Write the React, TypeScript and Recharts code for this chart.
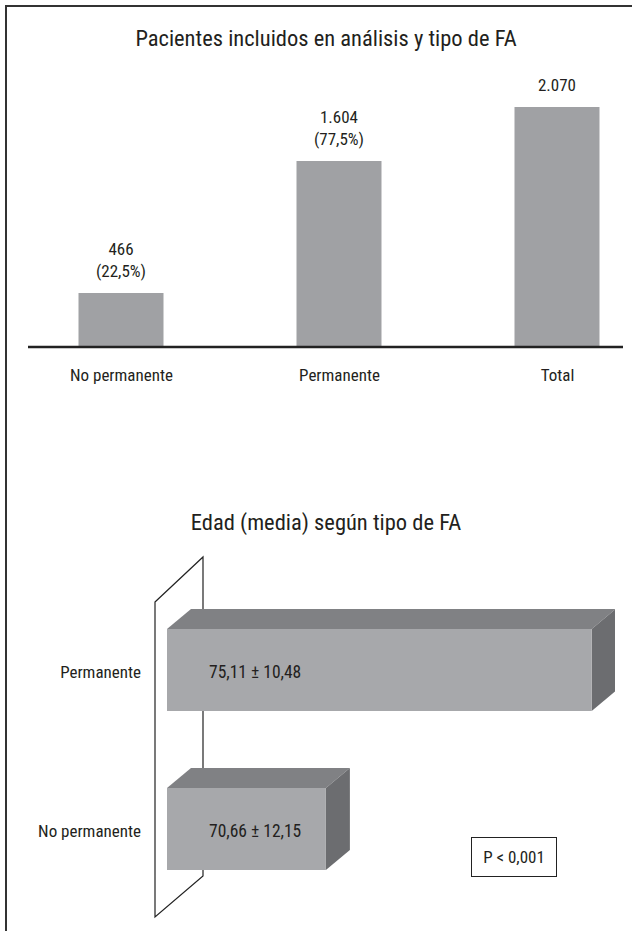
import React from "react";
import { BarChart, Bar, XAxis, YAxis, LabelList } from "recharts";

// top chart: patients by AF type
const groups = ["No permanente", "Permanente", "Total"];
const patients = [466, 1604, 2070];
const shares = ["22,5%", "77,5%", null];

// bottom chart: mean age by AF type
const ageGroups = ["Permanente", "No permanente"];
const ageMeans = [75.11, 70.66];
const ageSd = [10.48, 12.15];

const FONT = '"Liberation Sans Narrow", "Roboto Condensed", "DejaVu Sans Condensed", "Liberation Sans", sans-serif';
const INK = "#231f20";

const patientRows = groups.map((g, i) => ({ pos: i, name: g, count: patients[i], share: shares[i] }));
const ageRows = ageGroups.map((g, i) => ({ name: g, mean: ageMeans[i], sd: ageSd[i] }));

const fmtThousands = (v: number) => String(v).replace(/\B(?=(\d{3})+(?!\d))/g, ".");
const fmtDec = (v: number) => v.toFixed(2).replace(".", ",");

function CountLabel(props: any) {
    const { x, y, width, index } = props;
    const row = patientRows[index];
    const cx = x + width / 2;
    const lines = row.share ? [fmtThousands(row.count), "(" + row.share + ")"] : [fmtThousands(row.count)];
    return (
        <g>
            {lines.map((t, k) => (
                <text key={k} x={cx} y={y - 22 * (lines.length - k) + 6} textAnchor="middle" fontSize={17} fill={INK} fontFamily={FONT}>
                    {t}
                </text>
            ))}
        </g>
    );
}

// bar with a fake depth: front, top and side faces
function Box3D(props: any) {
    const { x, y, width, height } = props;
    const dx = 24;
    const dy = 20;
    return (
        <g>
            <polygon points={`${x},${y} ${x + dx},${y - dy} ${x + width + dx},${y - dy} ${x + width},${y}`} fill="#808184" />
            <polygon points={`${x + width},${y} ${x + width + dx},${y - dy} ${x + width + dx},${y + height - dy} ${x + width},${y + height}`} fill="#6c6d70" />
            <rect x={x} y={y} width={width} height={height} fill="#a7a8ab" />
        </g>
    );
}

function AgeLabel(props: any) {
    const { x, y, height, index } = props;
    const row = ageRows[index];
    return (
        <text x={x + 42} y={y + height / 2 + 8} textAnchor="start" fontSize={17.5} fill={INK} fontFamily={FONT}>
            {fmtDec(row.mean) + " ± " + fmtDec(row.sd)}
        </text>
    );
}

export default function App() {
    return (
        <div style={{ position: "relative", width: 637, height: 931, background: "#fff", fontFamily: FONT, color: INK, overflow: "hidden" }}>
            <style>{"body{margin:0}"}</style>
            <div style={{ position: "absolute", left: 5, top: 5, width: 627, height: 1.5, background: "#333" }} />
            <div style={{ position: "absolute", left: 5, top: 5, width: 1.5, height: 926, background: "#333" }} />

            <div style={{ position: "absolute", left: 0, top: 24, width: 652, textAlign: "center", fontSize: 22.5, lineHeight: "28px" }}>
                Pacientes incluidos en análisis y tipo de FA
            </div>

            <div style={{ position: "absolute", left: 0, top: 0 }}>
                <BarChart width={637} height={400} data={patientRows} margin={{ top: 57, right: 14, left: 28, bottom: 13 }}>
                    <YAxis hide domain={[0, 2500]} />
                    <XAxis
                        type="number"
                        dataKey="pos"
                        domain={[-0.4289, 2.3005]}
                        ticks={[0, 1, 2]}
                        tickFormatter={(i: number) => groups[i]}
                        height={40}
                        tickLine={false}
                        tickSize={0}
                        tickMargin={22}
                        axisLine={{ stroke: "#222", strokeWidth: 2.5 }}
                        tick={{ fontSize: 17, fill: INK, fontFamily: FONT }}
                        interval={0}
                    />
                    <Bar dataKey="count" barSize={85} fill="#a0a1a4" isAnimationActive={false}>
                        <LabelList dataKey="count" content={CountLabel} />
                    </Bar>
                </BarChart>
            </div>

            <div style={{ position: "absolute", left: 0, top: 508, width: 652, textAlign: "center", fontSize: 22.5, lineHeight: "28px" }}>
                Edad (media) según tipo de FA
            </div>

            <svg style={{ position: "absolute", left: 0, top: 0 }} width={637} height={931}>
                <polygon points="155,602 203,557 203,876 155,917" fill="none" stroke="#222" strokeWidth={1.2} />
            </svg>

            <div style={{ position: "absolute", left: 0, top: 540 }}>
                <BarChart width={637} height={391} data={ageRows} layout="vertical" margin={{ top: 50, right: 22, left: 0, bottom: 23 }}>
                    <XAxis type="number" hide domain={[68, 75.5]} allowDataOverflow />
                    <YAxis
                        type="category"
                        dataKey="name"
                        width={167}
                        axisLine={false}
                        tickLine={false}
                        tickSize={0}
                        tickMargin={26}
                        tick={{ fontSize: 17, fill: INK, fontFamily: FONT, dy: 2 }}
                    />
                    <Bar dataKey="mean" barSize={82} shape={Box3D} isAnimationActive={false}>
                        <LabelList dataKey="mean" content={AgeLabel} />
                    </Bar>
                </BarChart>
            </div>

            <div style={{ position: "absolute", left: 471, top: 837, width: 84, height: 38, border: "1px solid #222", fontSize: 17, display: "flex", alignItems: "center", justifyContent: "center" }}>
                P &lt; 0,001
            </div>
        </div>
    );
}
